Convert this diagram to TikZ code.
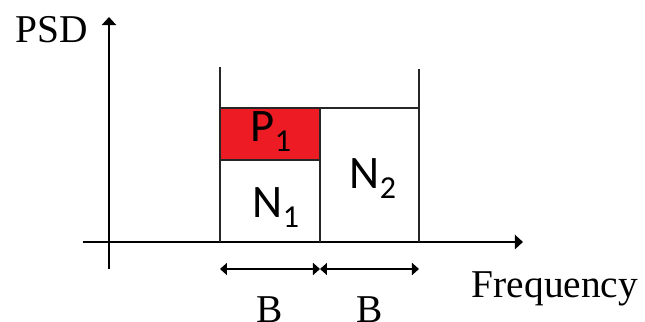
\documentclass[tikz,border=0pt]{standalone}
\usepackage{fontspec}
\setmainfont{Liberation Serif}
\newfontfamily\labelfont{Carlito}
\usepackage{tikz}
\usetikzlibrary{arrows.meta, positioning, calc}
\definecolor{powred}{HTML}{ED1C24}
\newcommand{\sublabel}[2]{#1\raisebox{-5pt}{\fontsize{16}{16}\selectfont #2}}

\begin{document}
\begin{tikzpicture}[
    x=0.5pt, y=-0.5pt,
    axis/.style={line width=1pt, -{Triangle[length=4pt, width=7pt]}},
    band/.style={draw=black!85, line width=0.9pt},
    bwidth/.style={line width=0.9pt, {Triangle[length=3.5pt, width=6pt]}-{Triangle[length=3.5pt, width=6pt]}},
    axislabel/.style={font=\fontsize{19.7}{24}\selectfont, inner sep=0pt},
    powlabel/.style={font=\labelfont\fontsize{23.3}{28}\selectfont, inner sep=0pt},
  ]
  \useasboundingbox (0,0) rectangle (645,322);
  % Axes
  \coordinate (o1) at (109,269);
  \coordinate (o2) at (109,17);
  \coordinate (f1) at (83,242);
  \coordinate (f2) at (523,242);
  \draw[axis] (o1) -- (o2);
  \draw[axis] (f1) -- (f2);
  \node[axislabel, anchor=base] (psd) at (52,42) {PSD};
  \node[axislabel, anchor=base] (freq) at (555,297) {Frequency};
  % Bands
  \fill[powred] (220,108) rectangle (320,160);
  \draw[band] (220,160) -- (320,160);
  \draw[band] (220,108) -- (419,108);
  \draw[band] (220,67) -- (220,242);
  \draw[band] (320,108) -- (320,242);
  \draw[band] (419,69) -- (419,242);
  \node[powlabel, anchor=base] (p1) at (271,141) {\sublabel{P}{1}};
  \node[powlabel, anchor=base] (n1) at (276,217) {\sublabel{N}{1}};
  \node[powlabel, anchor=base] (n2) at (373,188) {\sublabel{N}{2}};
  % Bandwidths
  \coordinate (b0) at (220,269);
  \coordinate (b1) at (320,269);
  \coordinate (b2) at (419,269);
  \draw[bwidth] (b0) -- (b1);
  \draw[bwidth] (b1) -- (b2);
  \node[axislabel, anchor=base] (bw1) at (270,322) {B};
  \node[axislabel, anchor=base] (bw2) at (370,322) {B};
\end{tikzpicture}
\end{document}
